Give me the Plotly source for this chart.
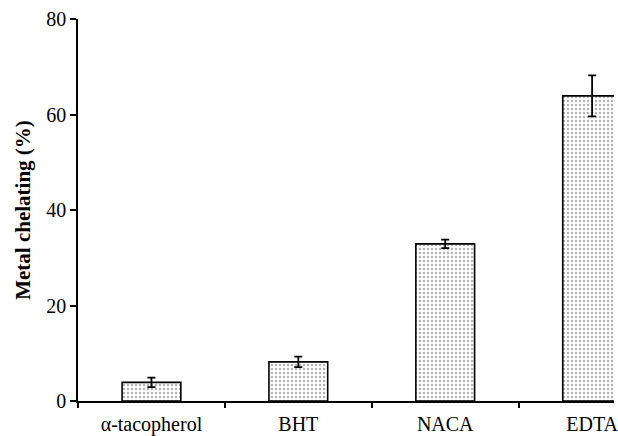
import plotly.graph_objects as go

categories = ["α-tacopherol", "BHT", "NACA", "EDTA"]
values = [3.9, 8.2, 32.9, 63.9]
errors = [1.0, 1.1, 0.9, 4.3]
y_ticks = [0, 20, 40, 60, 80]

FONT = "Liberation Serif, Times New Roman, serif"

fig = go.Figure()
fig.add_trace(go.Bar(
    x=categories,
    y=values,
    width=0.4,
    marker=dict(
        color="white",
        line=dict(color="black", width=1.6),
        pattern=dict(shape=".", fgcolor="#666666", bgcolor="white", size=4, solidity=0.3),
    ),
    error_y=dict(type="data", array=errors, visible=True, color="black", thickness=1.8, width=4),
))

fig.update_layout(
    width=618, height=436,
    margin=dict(l=78, r=0, t=19, b=35),
    plot_bgcolor="white", paper_bgcolor="white",
    showlegend=False,
    font=dict(family=FONT, color="black", size=20),
    xaxis=dict(
        type="category",
        range=[-0.5, 3.149],
        tickson="boundaries",
        ticks="outside", ticklen=5, tickwidth=1.5, tickcolor="black",
        ticklabeloverflow="allow",
        ticklabelstandoff=4,
        showline=True, linecolor="black", linewidth=1.6,
        showgrid=False, zeroline=False,
        tickfont=dict(size=20, family=FONT),
    ),
    yaxis=dict(
        range=[0, 80],
        tickvals=y_ticks,
        showline=True, linecolor="black", linewidth=1.6,
        showgrid=False, zeroline=False,
        ticks="outside", ticklen=6, tickwidth=1.5, tickcolor="black",
        tickfont=dict(size=20, family=FONT),
        title=dict(text="<b>Metal chelating (%)</b>", font=dict(size=21, family=FONT), standoff=10),
    ),
)

fig.write_html("out.html", config={"displayModeBar": False},
               post_script="document.body.style.margin='0px';document.body.style.overflow='hidden';")
